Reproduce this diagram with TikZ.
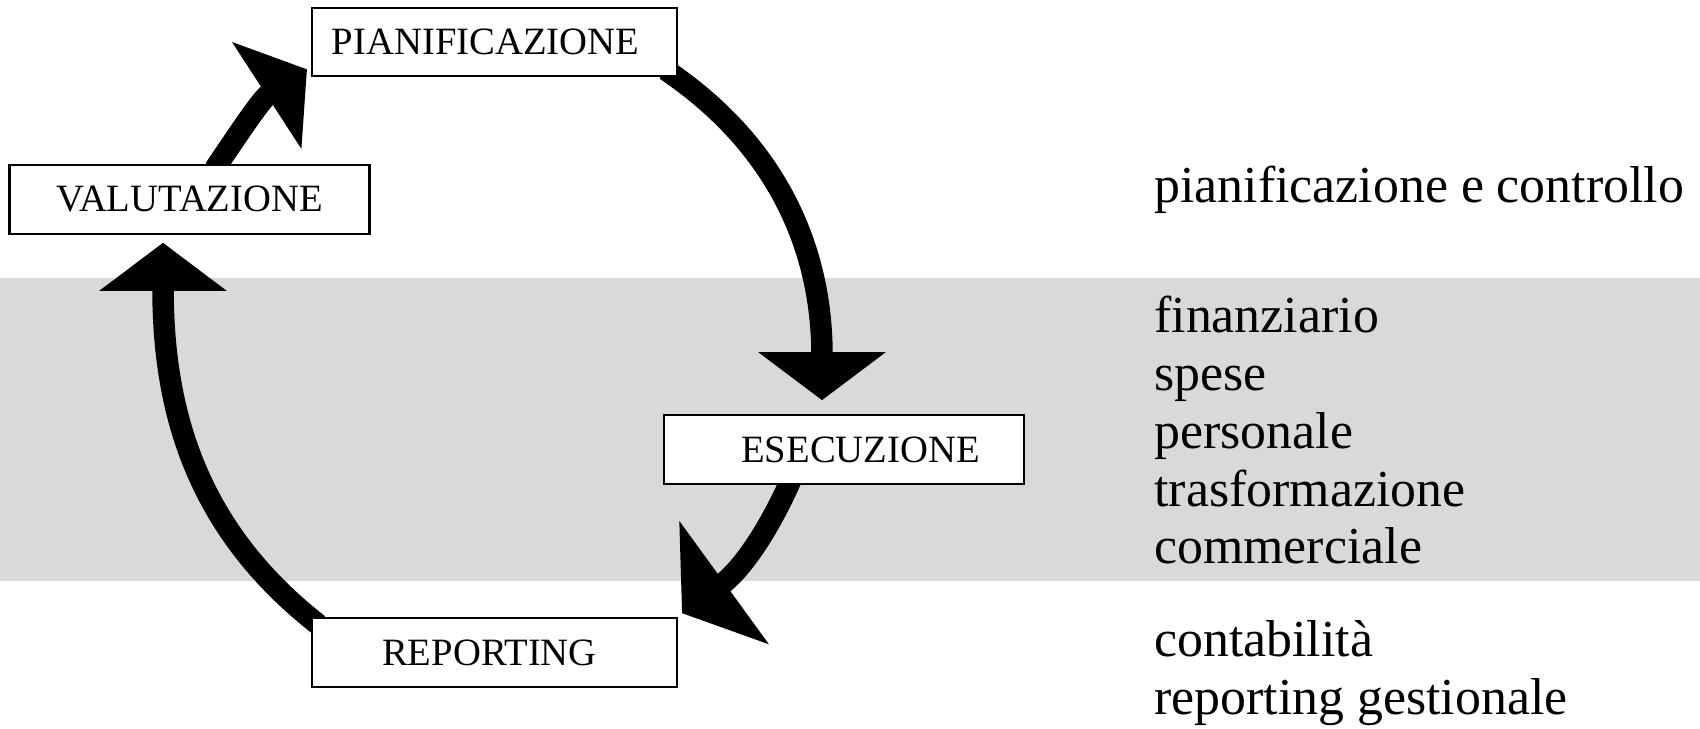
\documentclass[tikz,border=0pt]{standalone}
\usepackage{fontspec}
\setmainfont{Liberation Serif}
\usetikzlibrary{arrows.meta,positioning,backgrounds}
\definecolor{band}{RGB}{217,217,217}
\newcommand{\phasefont}{\fontsize{22}{26}\selectfont}
\newcommand{\listfont}{\fontsize{29.5}{34}\selectfont}

\begin{document}
\begin{tikzpicture}[node distance=0pt,
  phase/.style={draw, line width=1.2pt, fill=white, minimum width=7.3cm, minimum height=1.37cm, inner sep=0pt, font=\phasefont},
  item/.style={inner sep=0pt, font=\listfont, text height=0.84cm, text depth=0.3cm},
  cyc/.style={line width=0.43cm, -{Triangle[length=0.96cm,width=2.5cm]}}]
\useasboundingbox (0,0) rectangle (34,14.58);
\node[phase] (pian) at (9.89,13.74) {PIANIFICAZIONE\hspace*{0.36cm}};
\node[phase, minimum width=7.2cm] (val) at (3.79,10.59) {VALUTAZIONE};
\node[phase, minimum width=7.2cm] (ese) at (16.88,5.59) {\hspace*{0.66cm}ESECUZIONE};
\node[phase] (rep) at (9.89,1.53) {REPORTING\hspace*{0.2cm}};
\node[item, anchor=base west] (pc) at (23.08,10.52) {pianificazione e controllo};
\node[item, anchor=base west] (f1) at (23.08,7.92) {finanziario};
\node[item, below=of f1.south west, anchor=north west] (f2) {spese};
\node[item, below=of f2.south west, anchor=north west] (f3) {personale};
\node[item, below=of f3.south west, anchor=north west] (f4) {trasformazione};
\node[item, below=of f4.south west, anchor=north west] (f5) {commerciale};
\node[item, anchor=base west] (c1) at (23.08,1.44) {contabilità};
\node[item, below=of c1.south west, anchor=north west] (c2) {reporting gestionale};
\begin{scope}[on background layer]
\fill[band] (0,2.96) rectangle (34,9.02);
\draw[cyc] ([xshift=0.5cm,yshift=-0.1cm]val.north) to[out=56,in=213] ([xshift=-0.08cm,yshift=0.16cm]pian.south west);
\draw[cyc] ([xshift=-0.25cm,yshift=0.15cm]pian.south east) to[out=-34,in=90] ([xshift=-0.44cm,yshift=0.28cm]ese.north);
\draw[cyc, -{Triangle[length=1.04cm,width=3cm]}] ([xshift=-1.06cm,yshift=0.1cm]ese.south) to[out=-114,in=36] ([xshift=0.08cm,yshift=0.08cm]rep.north east);
\draw[cyc] ([xshift=0.15cm,yshift=-0.15cm]rep.north west) to[out=142,in=-90] ([xshift=-0.53cm,yshift=-0.16cm]val.south);
\end{scope}
\end{tikzpicture}
\end{document}
